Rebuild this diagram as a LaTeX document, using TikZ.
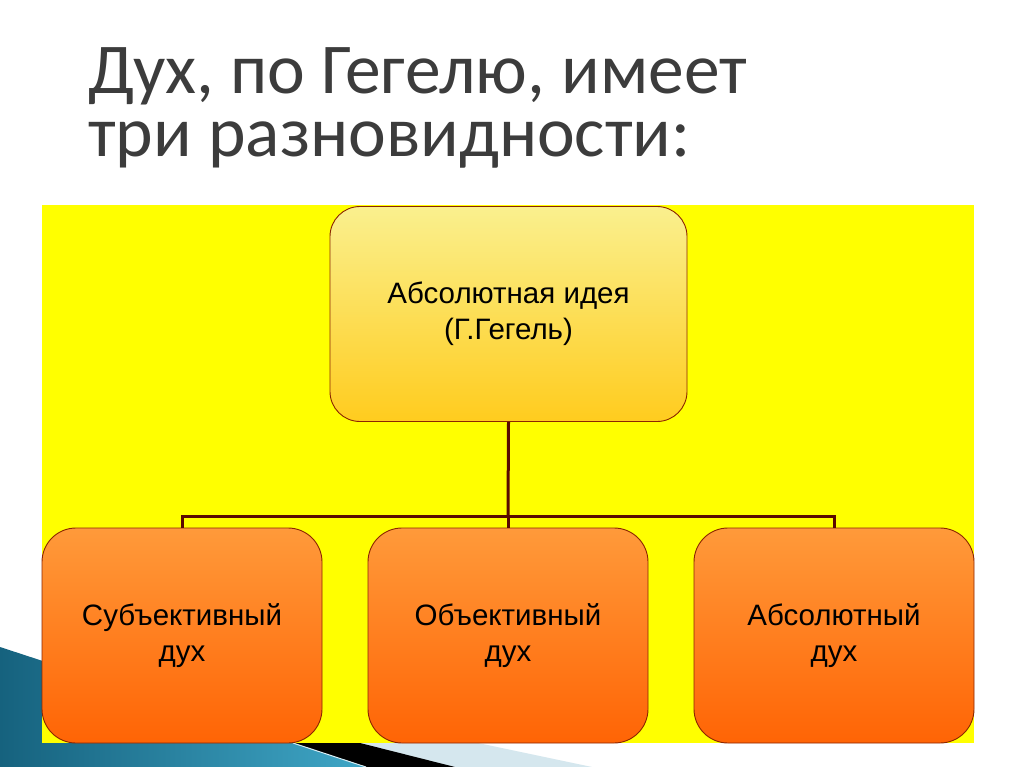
\documentclass[tikz,border=0pt]{standalone}
\usepackage{fontspec}
\setmainfont{Liberation Sans}
\newfontfamily\titlefont{Carlito}
\begin{document}
\begin{tikzpicture}[x=1pt,y=-1pt,
  boxtop/.style={draw=boxedge, line width=0.9pt, rounded corners=30pt, top color=topA, bottom color=topB, minimum width=357pt, minimum height=215pt, inner sep=0pt, align=center, font=\fontsize{29.5}{36}\selectfont},
  boxbot/.style={draw=boxedge, line width=0.9pt, rounded corners=34pt, top color=botA, bottom color=botB, minimum width=280pt, minimum height=215pt, inner sep=0pt, align=center, font=\fontsize{29.5}{36}\selectfont},
  link/.style={draw=linkc, line width=3pt},
  titletext/.style={anchor=base west, inner sep=0pt, align=left, text=titlec, font=\titlefont\fontsize{71.5}{63}\selectfont}
]
\definecolor{topA}{HTML}{FAF08E}
\definecolor{topB}{HTML}{FFCC1E}
\definecolor{botA}{HTML}{FF9A3A}
\definecolor{botB}{HTML}{FF6405}
\definecolor{boxedge}{HTML}{8B2500}
\definecolor{linkc}{HTML}{5A0A00}
\definecolor{titlec}{HTML}{3C3C3C}
\definecolor{tealA}{HTML}{16627E}
\definecolor{tealB}{HTML}{3FA6C6}
\definecolor{lightb}{HTML}{D5E7EE}
\definecolor{panel}{HTML}{FFFF00}
\useasboundingbox (0,0) rectangle (1024,767);
\fill[white] (0,0) rectangle (1024,767);
% bottom decoration
\fill[lightb] (355,743) -- (478,743) -- (592,767) -- (450,767) -- cycle;
\fill[black] (285,743) -- (360,743) -- (455,767) -- (362,767) -- cycle;
\shade[left color=tealA, right color=tealB] (0,647) -- (293,743) -- (366,767) -- (0,767) -- cycle;
\draw[white!80!tealB, line width=1pt] (293,743) -- (366,767);
% title (base anchor = baseline of last line)
\node[titletext] (title) at (88,157) {Дух, по Гегелю, имеет\\три разновидности:};
% yellow panel
\fill[panel] (42,205) rectangle (974,743);
% boxes
\node[boxtop] (top) at (508.5,314) {Абсолютная идея\\(Г.Гегель)};
\node[boxbot] (b1) at (182,635.5) {Субъективный\\дух};
\node[boxbot] (b2) at (508,635.5) {Объективный\\дух};
\node[boxbot] (b3) at (834,635.5) {Абсолютный\\дух};
% connectors
\coordinate (j) at (508,516);
\draw[link] (top.south) -- (j);
\draw[link] (b1.north) -- (b1.north |- j) -- (b3.north |- j) -- (b3.north);
\draw[link] (j) -- (b2.north);
\end{tikzpicture}
\end{document}
